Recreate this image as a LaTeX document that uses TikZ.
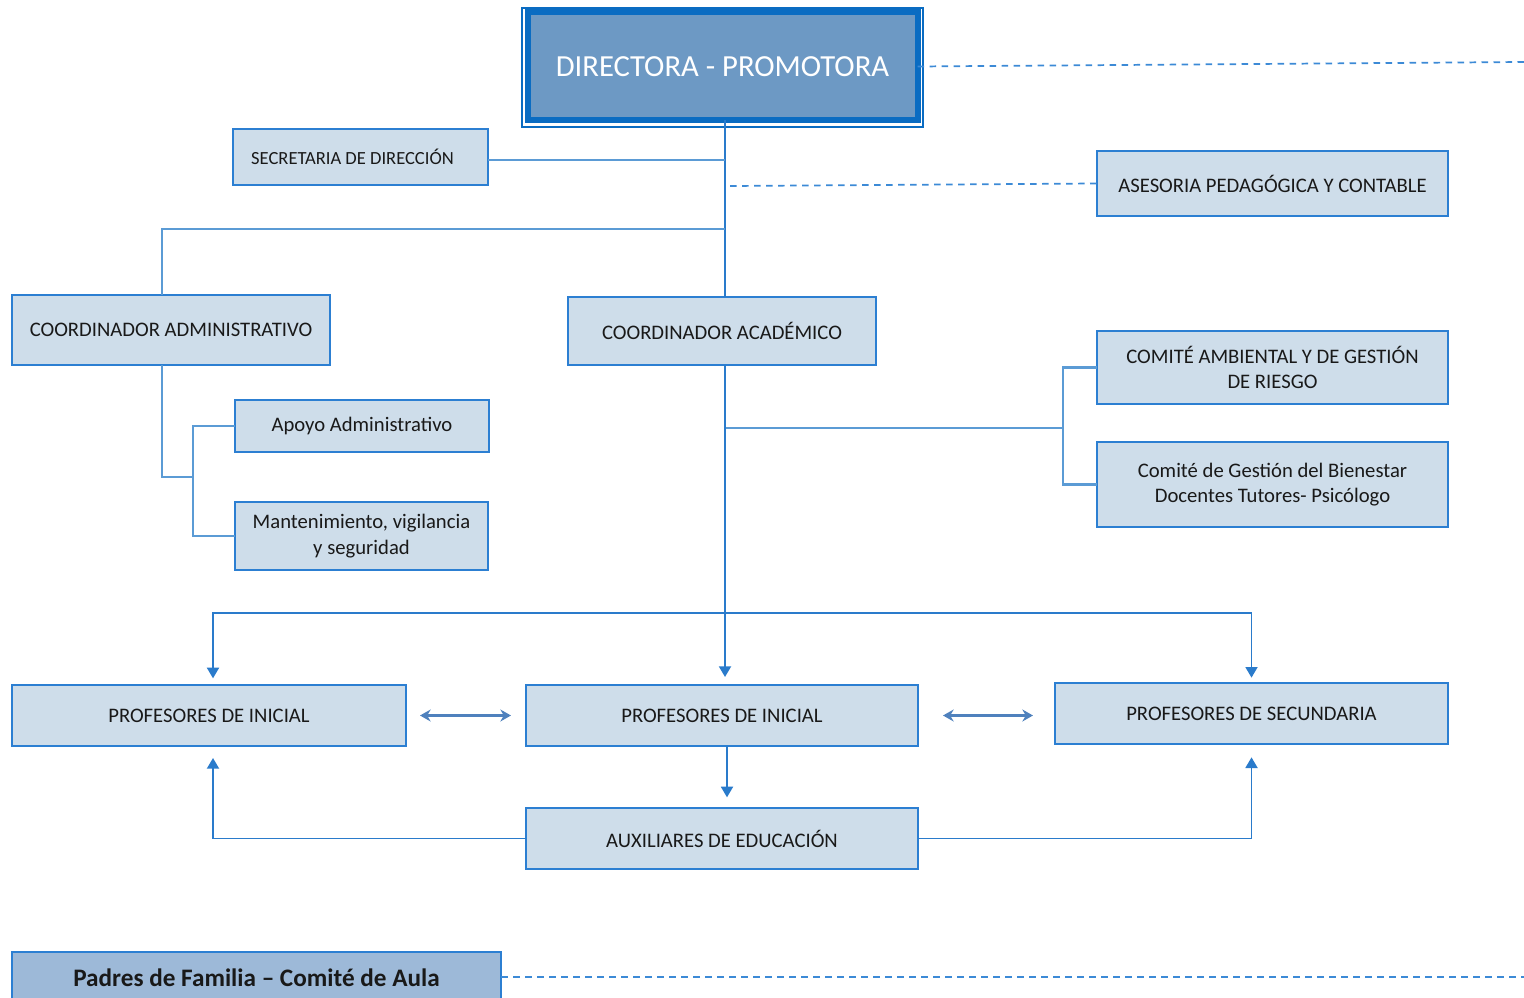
\documentclass[tikz,border=0pt]{standalone}
\usepackage{fontspec}
\setmainfont{Carlito}
\usetikzlibrary{arrows.meta,calc}
\definecolor{boxfill}{HTML}{CEDDEA}
\definecolor{boxline}{HTML}{2C7FD2}
\definecolor{dirfill}{HTML}{6D99C4}
\definecolor{dirline}{HTML}{0A6CC2}
\definecolor{conn}{HTML}{5B9BD5}
\definecolor{darkconn}{HTML}{2A7BCB}
\definecolor{dashc}{HTML}{3C8AD6}
\definecolor{dblc}{HTML}{4F81BD}
\definecolor{padfill}{HTML}{9DB9D8}
\tikzset{
  box/.style={draw=boxline, line width=1.1pt, fill=boxfill, rectangle, inner sep=0pt, outer sep=0pt, align=center, text=black!90, font=\fontsize{15.5}{19}\selectfont},
  conline/.style={draw=conn, line width=1.9pt},
  darkline/.style={draw=darkconn, line width=1.3pt},
  dashline/.style={draw=dashc, line width=1.3pt, dash pattern=on 5pt off 4pt},
  arr/.style={draw=darkconn, line width=1.4pt, -{Triangle[width=9pt,length=8pt]}},
  dbl/.style={draw=dblc, line width=1.6pt, {Stealth[width=9pt,length=8pt]}-{Stealth[width=9pt,length=8pt]}},
}
\begin{document}
\begin{tikzpicture}[x=0.75pt,y=-0.75pt]
\useasboundingbox (0,0) rectangle (1524,998);
% director
\draw[dirline, line width=0.9pt] (522,8) rectangle (923,127);
\node[draw=dirline, line width=4.5pt, fill=dirfill, inner sep=0pt, outer sep=0pt, minimum width={390*0.75pt}, minimum height={108*0.75pt}, text=white, font=\fontsize{23}{27}\selectfont] (dir) at (722.5,66.5) {DIRECTORA - PROMOTORA};
\node[box, font=\fontsize{13.9}{17}\selectfont, minimum width={255*0.75pt}, minimum height={56*0.75pt}] (sec) at (360.5,157) {\hspace*{-12pt}SECRETARIA DE DIRECCIÓN};
\node[box, minimum width={351*0.75pt}, minimum height={65*0.75pt}] (ase) at (1272.5,183.5) {ASESORIA PEDAGÓGICA Y CONTABLE};
\node[box, minimum width={318*0.75pt}, minimum height={70*0.75pt}] (cadm) at (171,330) {COORDINADOR ADMINISTRATIVO};
\node[box, minimum width={308*0.75pt}, minimum height={68*0.75pt}] (cacad) at (722,331) {COORDINADOR ACADÉMICO};
\node[box, minimum width={254*0.75pt}, minimum height={52*0.75pt}] (apoyo) at (362,426) {Apoyo Administrativo};
\node[box, minimum width={253*0.75pt}, minimum height={68*0.75pt}] (mant) at (361.5,536) {Mantenimiento, vigilancia\\y seguridad};
\node[box, minimum width={351*0.75pt}, minimum height={73*0.75pt}] (camb) at (1272.5,367.5) {COMITÉ AMBIENTAL Y DE GESTIÓN\\DE RIESGO};
\node[box, minimum width={351*0.75pt}, minimum height={85*0.75pt}] (cbien) at (1272.5,484.5) {Comité de Gestión del Bienestar\\Docentes Tutores- Psicólogo};
\node[box, minimum width={394*0.75pt}, minimum height={61*0.75pt}] (pini1) at (209,715.5) {PROFESORES DE INICIAL};
\node[box, minimum width={392*0.75pt}, minimum height={61*0.75pt}] (pini2) at (722,715.5) {PROFESORES DE INICIAL};
\node[box, minimum width={393*0.75pt}, minimum height={61*0.75pt}] (psec) at (1251.5,713.5) {PROFESORES DE SECUNDARIA};
\node[box, minimum width={392*0.75pt}, minimum height={61*0.75pt}] (aux) at (722,838.5) {AUXILIARES DE EDUCACIÓN};
\node[box, fill=padfill, font=\bfseries\fontsize{18.9}{22}\selectfont, minimum width={489*0.75pt}, minimum height={52*0.75pt}] (pad) at (256.5,978) {Padres de Familia – Comité de Aula};
% junction coordinates
\coordinate (jsec) at (725,160);
\coordinate (jdash) at (730,186);
\coordinate (jadm) at (725,229);
\coordinate (vadm) at (162,0);
\coordinate (jcom) at (725,428);
\coordinate (jprof) at (725,613);
\coordinate (vini) at (213,0);
\coordinate (edir) at (1524,62);
\coordinate (epad) at (1524,977);
% connectors
\draw[darkline] (dir.south -| jsec) -- (cacad.north -| jsec);
\draw[conline] (sec.east |- jsec) -- (jsec);
\draw[dashline] (jdash) -- (ase.west);
\draw[conline] (jadm) -| (cadm.north -| vadm);
\draw[conline] (cadm.south -| vadm) |- (193,477);
\draw[conline] (apoyo.west) -- ++(-42,0) |- (mant.west);
\draw[conline] (jcom) -- (1063,428);
\draw[conline] (camb.west) -- ++(-34,0) |- (cbien.west);
\draw[arr, shorten >=6pt] (cacad.south -| jsec) -- (pini2.north -| jsec);
\draw[arr, shorten >=5pt] (jprof) -| (pini1.north -| vini);
\draw[arr, shorten >=4pt] (jprof) -| (psec.north);
\draw[dbl] ($(pini1.east)+(14,0)$) -- ($(pini2.west)+(-15,0)$);
\draw[dbl] ($(pini2.east)+(25,0)$) -- ($(psec.west |- pini2.east)+(-22,0)$);
\draw[arr, shorten >=8pt] (pini2.south -| 727,0) -- (aux.north -| 727,0);
\draw[arr, shorten >=9pt] (aux.west) -| (pini1.south -| vini);
\draw[arr, shorten >=10pt] (aux.east) -| (psec.south);
\draw[dashline] (dir.east) -- (edir);
\draw[dashline] (pad.east |- epad) -- (epad);
\end{tikzpicture}
\end{document}
